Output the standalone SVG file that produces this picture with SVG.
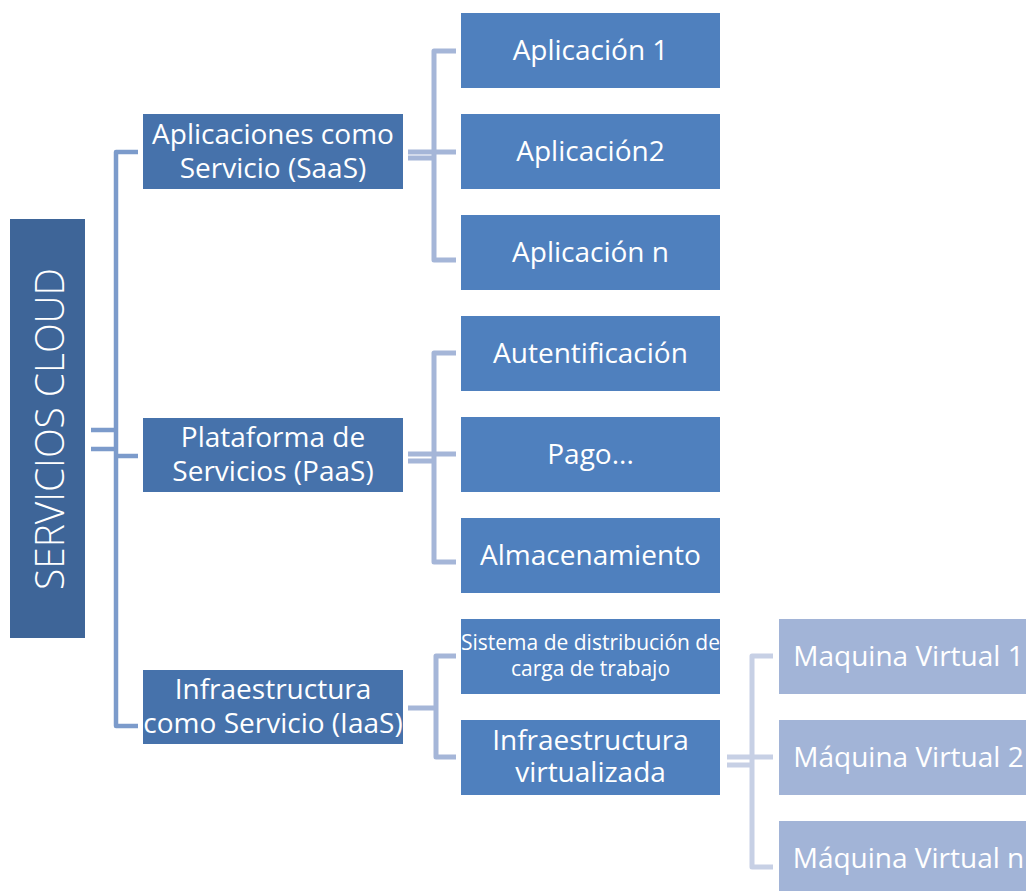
<svg xmlns="http://www.w3.org/2000/svg" width="1026" height="891" viewBox="0 0 1026 891">
<style>
.root{fill:#3E6598}
.l1{fill:#4672AB}
.l2{fill:#4F80BE}
.l3{fill:#A2B4D7}
text{font-family:"Open Sans","Liberation Sans",sans-serif;fill:#fff;text-anchor:middle}
.t{font-size:28px}
.ts{font-size:21px}
.c0{fill:none;stroke:#7C9BCB;stroke-width:4.5;stroke-linejoin:round}
.c1{fill:none;stroke:#A5B6D8;stroke-width:5;stroke-linejoin:round}
.c2{fill:none;stroke:#C7D0E5;stroke-width:5;stroke-linejoin:round}
</style>
<g id="connectors">
<path class="c0" d="M91 430H118M91 449H118M138 152H116V726H138M116 456H138"/>
<path class="c1" d="M408 152H456M408 158H434M456 51H434V260H456"/>
<path class="c1" d="M408 454H456M408 461H434M456 353H434V562H456"/>
<path class="c1" d="M408 708H436M456 656H436V757H456"/>
<path class="c2" d="M727 757H773M727 765H752M773 656H752V867H773"/>
</g>
<g id="root"><rect class="root" x="10" y="219" width="75" height="419"/>
<text transform="translate(64 429) rotate(-90)" style="font-size:40px;font-weight:300" textLength="322" lengthAdjust="spacingAndGlyphs">SERVICIOS CLOUD</text></g>
<g id="saas"><rect class="l1" x="143" y="114" width="260" height="75"/><text class="t" x="273" y="144">Aplicaciones como</text><text class="t" x="273" y="178">Servicio (SaaS)</text></g>
<g id="paas"><rect class="l1" x="143" y="418" width="260" height="74"/><text class="t" x="273" y="447">Plataforma de</text><text class="t" x="273" y="481">Servicios (PaaS)</text></g>
<g id="iaas"><rect class="l1" x="143" y="670" width="260" height="74"/><text class="t" x="273" y="699">Infraestructura</text><text class="t" x="273" y="733">como Servicio (IaaS)</text></g>
<g id="app1"><rect class="l2" x="461" y="13" width="259" height="75"/><text class="t" x="590.5" y="60">Aplicación 1</text></g>
<g id="app2"><rect class="l2" x="461" y="114" width="259" height="75"/><text class="t" x="590.5" y="161">Aplicación2</text></g>
<g id="appn"><rect class="l2" x="461" y="215" width="259" height="75"/><text class="t" x="590.5" y="262">Aplicación n</text></g>
<g id="autent"><rect class="l2" x="461" y="316" width="259" height="75"/><text class="t" x="590.5" y="363">Autentificación</text></g>
<g id="pago"><rect class="l2" x="461" y="417" width="259" height="75"/><text class="t" x="590.5" y="464">Pago...</text></g>
<g id="almac"><rect class="l2" x="461" y="518" width="259" height="75"/><text class="t" x="590.5" y="565">Almacenamiento</text></g>
<g id="sistema"><rect class="l2" x="461" y="619" width="259" height="75"/><text class="ts" x="590.5" y="650">Sistema de distribución de</text><text class="ts" x="590.5" y="676">carga de trabajo</text></g>
<g id="infravirt"><rect class="l2" x="461" y="720" width="259" height="75"/><text class="t" x="590.5" y="750">Infraestructura</text><text class="t" x="590.5" y="782">virtualizada</text></g>
<g id="mv1"><rect class="l3" x="779" y="619" width="259" height="75"/><text class="t" x="908.5" y="666">Maquina Virtual 1</text></g>
<g id="mv2"><rect class="l3" x="779" y="720" width="259" height="75"/><text class="t" x="908.5" y="767">Máquina Virtual 2</text></g>
<g id="mvn"><rect class="l3" x="779" y="821" width="259" height="75"/><text class="t" x="908.5" y="868">Máquina Virtual n</text></g>
</svg>
